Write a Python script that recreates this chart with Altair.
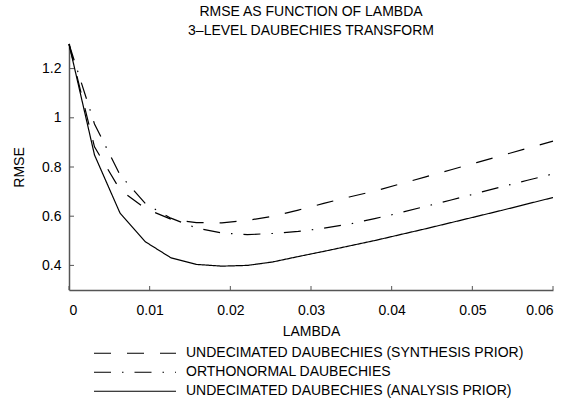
import altair as alt
import pandas as pd

# ---- data ----
lam = [0, 0.00316, 0.00632, 0.00947, 0.01263, 0.01579, 0.01895, 0.02211, 0.02526,
       0.02842, 0.03158, 0.03474, 0.03789, 0.04105, 0.04421, 0.04737, 0.05053,
       0.05368, 0.05684, 0.06]
synthesis = [1.30, 0.882, 0.708, 0.631, 0.588, 0.574, 0.573, 0.583, 0.600, 0.625,
             0.652, 0.678, 0.702, 0.731, 0.760, 0.789, 0.818, 0.847, 0.876, 0.905]
orthonormal = [1.30, 0.975, 0.768, 0.651, 0.592, 0.552, 0.532, 0.525, 0.530, 0.538,
               0.551, 0.568, 0.590, 0.614, 0.640, 0.666, 0.693, 0.720, 0.746, 0.772]
analysis = [1.30, 0.849, 0.613, 0.496, 0.431, 0.404, 0.397, 0.400, 0.414, 0.436,
            0.457, 0.479, 0.501, 0.525, 0.549, 0.574, 0.599, 0.624, 0.650, 0.676]
series_names = ["UNDECIMATED DAUBECHIES (SYNTHESIS PRIOR)",
                "ORTHONORMAL DAUBECHIES",
                "UNDECIMATED DAUBECHIES (ANALYSIS PRIOR)"]
x_ticks = [0, 0.01, 0.02, 0.03, 0.04, 0.05, 0.06]
y_ticks = [0.4, 0.6, 0.8, 1.0, 1.2]
title_lines = ["RMSE AS FUNCTION OF LAMBDA", "3\u2013LEVEL DAUBECHIES TRANSFORM"]

rows = []
for name, vals in zip(series_names, [synthesis, orthonormal, analysis]):
    for i, (l, v) in enumerate(zip(lam, vals)):
        rows.append({"lambda": l, "rmse": v, "series": name, "order": i})
df = pd.DataFrame(rows)

FONT = "Liberation Sans"
W, H = 484, 246
AXC = "#555555"

xscale = alt.Scale(domain=[0, 0.06], nice=False, zero=False)
yscale = alt.Scale(domain=[0.3, 1.3], nice=False, zero=False)

x_axis = alt.Axis(values=x_ticks, title="LAMBDA", labelExpr="'' + datum.value",
                  tickSize=0, labelPadding=13, grid=False,
                  titleX=W / 2, titleY=41, titleBaseline="middle",
                  titleAlign="center")
y_axis = alt.Axis(values=y_ticks, title="RMSE", labelExpr="'' + datum.value",
                  tickSize=0, labelPadding=8, grid=False,
                  titleAngle=270, titleX=-50, titleY=123,
                  titleBaseline="middle", titleAlign="center")

lines = alt.Chart(df).mark_line(color="black", strokeWidth=1.2).encode(
    x=alt.X("lambda:Q", scale=xscale, axis=x_axis),
    y=alt.Y("rmse:Q", scale=yscale, axis=y_axis),
    strokeDash=alt.StrokeDash(
        "series:N",
        scale=alt.Scale(domain=series_names,
                        range=[[17, 16], [17, 11, 1.5, 11], [1, 0]]),
        legend=alt.Legend(title=None, orient="none", legendX=24, legendY=301,
                          direction="vertical", symbolType="stroke",
                          symbolSize=6724, symbolStrokeWidth=1.2,
                          symbolStrokeColor="black", labelFont=FONT,
                          labelFontSize=14, labelLimit=600, labelOffset=9,
                          clipHeight=16.5, rowPadding=2, padding=0)),
    order="order:Q",
)

xt = pd.DataFrame({"lambda": x_ticks})
yt = pd.DataFrame({"rmse": y_ticks})
xtick_layer = alt.Chart(xt).mark_rule(color=AXC, strokeWidth=1).encode(
    x=alt.X("lambda:Q", scale=xscale, axis=x_axis),
    y=alt.value(H), y2=alt.value(H - 4))
ytick_layer = alt.Chart(yt).mark_rule(color=AXC, strokeWidth=1).encode(
    y=alt.Y("rmse:Q", scale=yscale, axis=y_axis),
    x=alt.value(0), x2=alt.value(5))

chart = alt.layer(lines, xtick_layer, ytick_layer).properties(
    width=W, height=H,
    title=alt.TitleParams(text=title_lines, font=FONT, fontSize=14,
                          fontWeight="normal", anchor="middle",
                          baseline="alphabetic", offset=26, dy=33,
                          lineHeight=18.4, color="black"),
    autosize=alt.AutoSizeParams(type="none"),
    padding={"left": 69, "top": 44, "right": 24, "bottom": 115},
).configure_view(stroke="transparent").configure_axis(
    labelFont=FONT, labelFontSize=14, labelColor="black",
    titleFont=FONT, titleFontSize=14, titleFontWeight="normal", titleColor="black",
    domainColor=AXC, domainWidth=1.5,
)

chart.save("out.html", embed_options={"renderer": "svg", "actions": False})
